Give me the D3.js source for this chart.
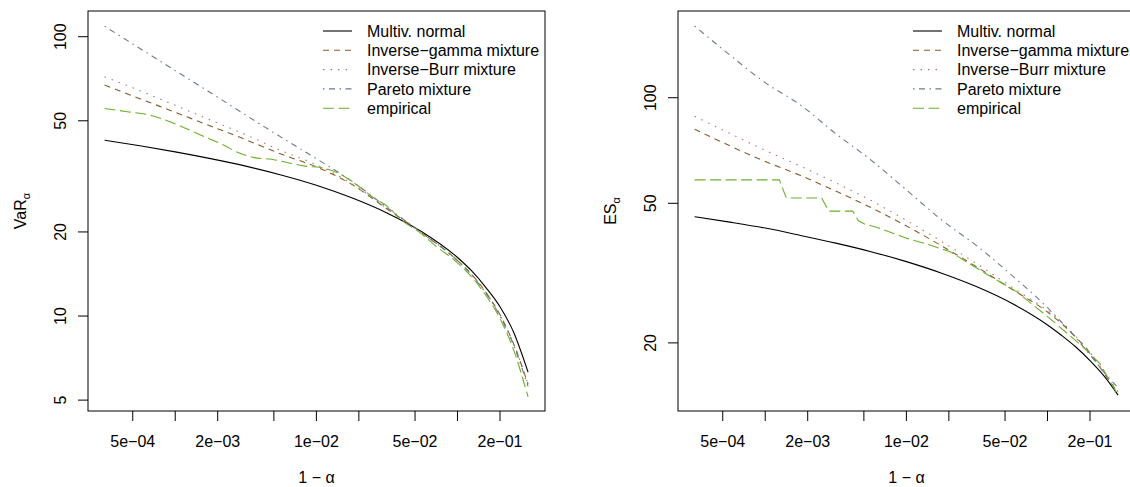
<!DOCTYPE html>
<html>
<head>
<meta charset="utf-8">
<script src="https://d3js.org/d3.v7.min.js"></script>
<style>
  body { margin: 0; background: #fff; }
  text { font-family: "Liberation Sans", Arial, Helvetica, sans-serif; font-size: 16px; fill: #000; }
</style>
</head>
<body>
<svg id="chart" width="1130" height="487"></svg>
<script>

// 1 - alpha values shared by the model curves
var pGrid = [0.000316, 0.000562, 0.001, 0.00178, 0.00316, 0.00562, 0.01, 0.0178, 0.0316, 0.0562, 0.1, 0.126, 0.158, 0.2, 0.251, 0.316];

// left panel: VaR
var normalVaR   = [42.6, 40.7, 38.7, 36.6, 34.4, 32.0, 29.4, 26.5, 23.4, 20.0, 16.2, 14.5, 12.7, 10.8, 8.7, 6.3];
var invGammaVaR = [67.1, 60.0, 53.6, 47.9, 42.8, 38.0, 34.2, 29.6, 24.2, 19.8, 15.8, 14.1, 12.2, 10.1, 7.9, 5.7];
var invBurrVaR  = [71.9, 64.1, 56.8, 50.3, 44.6, 39.1, 34.8, 29.8, 24.3, 19.8, 15.8, 14.1, 12.2, 10.1, 7.9, 5.7];
var paretoVaR   = [109.0, 90.8, 75.6, 63.0, 52.4, 43.7, 36.6, 30.4, 24.5, 19.8, 15.8, 14.0, 12.1, 10.0, 7.8, 5.6];
var empPVaR     = [0.000316, 0.000457, 0.000661, 0.000977, 0.00151, 0.00214, 0.00282, 0.00363, 0.00479, 0.00631, 0.00832, 0.0107, 0.0141, 0.0186, 0.0257, 0.0331, 0.0372, 0.0562, 0.0692, 0.1, 0.126, 0.158, 0.2, 0.251, 0.316];
var empiricalVaR = [55.3, 53.9, 52.4, 49.0, 44.5, 41.2, 38.4, 36.9, 36.4, 35.4, 34.4, 34.0, 32.6, 29.9, 26.4, 24.3, 22.8, 19.6, 17.9, 15.5, 13.8, 11.9, 9.8, 7.5, 5.14];

// right panel: ES
var normalES    = [45.8, 44.2, 42.5, 40.5, 38.5, 36.4, 34.1, 31.6, 28.9, 25.9, 22.5, 21.0, 19.5, 17.8, 16.1, 14.2];
var invGammaES  = [81.3, 72.9, 65.8, 60.0, 54.2, 48.6, 43.1, 37.8, 32.9, 28.4, 24.5, 22.7, 20.8, 18.7, 16.4, 14.4];
var invBurrES   = [88.5, 79.1, 70.8, 63.8, 57.2, 50.9, 44.7, 38.9, 33.6, 28.8, 24.7, 22.9, 20.9, 18.8, 16.5, 14.5];
var paretoES    = [160.1, 132.3, 110.4, 95.3, 79.0, 66.4, 54.6, 44.8, 37.8, 31.1, 25.2, 22.9, 20.7, 18.5, 16.5, 14.9];
var empPES      = [0.000316, 0.00126, 0.00141, 0.00251, 0.00282, 0.00417, 0.00457, 0.00501, 0.00631, 0.00977, 0.0141, 0.0204, 0.0347, 0.0603, 0.1035, 0.178, 0.234, 0.316];
var empiricalES = [58.3, 58.3, 51.8, 51.8, 47.5, 47.5, 44.6, 43.7, 42.6, 39.9, 38.2, 36.4, 31.9, 28.0, 23.5, 19.5, 17.5, 14.2];

// axes
var xTicks = [5e-4, 1e-3, 2e-3, 5e-3, 1e-2, 2e-2, 5e-2, 1e-1, 2e-1];
var xTickLabels = ["5e\u221204", "", "2e\u221203", "", "1e\u221202", "", "5e\u221202", "", "2e\u221201"];
var yTicksVaR = [5, 10, 20, 50, 100];
var yTicksES = [20, 50, 100];
var legendLabels = ["Multiv. normal", "Inverse\u2212gamma mixture", "Inverse\u2212Burr mixture", "Pareto mixture", "empirical"];

var styles = [
  {color: "#000000", dash: null},
  {color: "#8B5A2B", dash: "6,5"},
  {color: "#A07A72", dash: "1.5,6"},
  {color: "#6C7B8B", dash: "1.5,4.5,6,4.5"},
  {color: "#6CB02C", dash: "11,4.5"}
];

var svg = d3.select("#chart");
var boxTop = 11, boxBottom = 411;

function drawPanel(left, yDomain, yTicks, yName, series) {
  var x = d3.scaleLog().domain([2.41e-4, 0.4166]).range([left, left + 457]);
  var y = d3.scaleLog().domain(yDomain).range([boxBottom, boxTop]);
  var g = svg.append("g");

  // box
  g.append("rect")
    .attr("x", left).attr("y", boxTop)
    .attr("width", 457).attr("height", boxBottom - boxTop)
    .attr("fill", "none").attr("stroke", "#000").attr("stroke-width", 1);

  // x axis
  g.selectAll(".xt").data(xTicks).enter().append("line")
    .attr("x1", function(d) { return x(d); }).attr("x2", function(d) { return x(d); })
    .attr("y1", boxBottom).attr("y2", boxBottom + 10)
    .attr("stroke", "#000");
  g.selectAll(".xl").data(xTicks).enter().append("text")
    .attr("x", function(d) { return x(d); })
    .attr("y", 447)
    .attr("text-anchor", "middle")
    .text(function(d, i) { return xTickLabels[i]; });
  g.append("text")
    .attr("x", left + 228.5).attr("y", 483)
    .attr("text-anchor", "middle")
    .text("1 \u2212 \u03b1");

  // y axis
  g.selectAll(".yt").data(yTicks).enter().append("line")
    .attr("x1", left - 10).attr("x2", left)
    .attr("y1", function(d) { return y(d); }).attr("y2", function(d) { return y(d); })
    .attr("stroke", "#000");
  g.selectAll(".yl").data(yTicks).enter().append("text")
    .attr("transform", function(d) { return "translate(" + (left - 22) + "," + y(d) + ") rotate(-90)"; })
    .attr("text-anchor", "middle")
    .text(function(d) { return d; });
  var yl = g.append("text")
    .attr("transform", "translate(" + (left - 62) + "," + 211 + ") rotate(-90)")
    .attr("text-anchor", "middle");
  yl.append("tspan").text(yName);
  yl.append("tspan").attr("dy", 4).style("font-size", "11px").text("\u03b1");

  // curves
  series.forEach(function(s, i) {
    var line = d3.line()
      .x(function(d) { return x(d[0]); })
      .y(function(d) { return y(d[1]); })
      .curve(s.step ? d3.curveLinear : d3.curveMonotoneX);
    g.append("path")
      .datum(d3.zip(s.p, s.v))
      .attr("d", line)
      .attr("fill", "none")
      .attr("stroke", styles[i].color)
      .attr("stroke-width", 1.1)
      .attr("stroke-dasharray", styles[i].dash);
  });

  // legend
  legendLabels.forEach(function(lab, i) {
    var ly = 31 + i * 19.3;
    g.append("line")
      .attr("x1", left + 235).attr("x2", left + 264)
      .attr("y1", ly).attr("y2", ly)
      .attr("stroke", styles[i].color)
      .attr("stroke-width", 1.1)
      .attr("stroke-dasharray", styles[i].dash);
    g.append("text")
      .attr("x", left + 279).attr("y", ly)
      .attr("dy", "0.36em")
      .text(lab);
  });
}

drawPanel(88, [4.571, 123.6], yTicksVaR, "VaR", [
  {p: pGrid, v: normalVaR},
  {p: pGrid, v: invGammaVaR},
  {p: pGrid, v: invBurrVaR},
  {p: pGrid, v: paretoVaR},
  {p: empPVaR, v: empiricalVaR}
]);

drawPanel(678, [12.79, 176.7], yTicksES, "ES", [
  {p: pGrid, v: normalES},
  {p: pGrid, v: invGammaES},
  {p: pGrid, v: invBurrES},
  {p: pGrid, v: paretoES},
  {p: empPES, v: empiricalES, step: true}
]);

</script>
</body>
</html>
